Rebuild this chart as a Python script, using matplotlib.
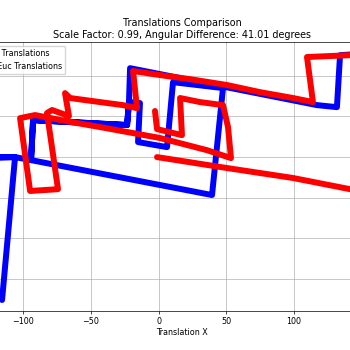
import numpy as np
import matplotlib
matplotlib.use('Agg')
import matplotlib.pyplot as plt
from matplotlib.ticker import MultipleLocator

# blue trajectory (x, y)
gt_x = [-115.5, -105.9, -146.5, -105.9, -94.1, 39.5, 47.6, 10.7, 6.3, -15.1, -13.7, -21.8,
        -23.2, -92.6, -94.1, -92.6, -23.2, -21.8, -21.0, 117.0, 131.7, 134.0, 167.2]
gt_y = [-70.4, 0.0, -0.5, 0.0, -1.5, -18.7, 34.0, 36.9, 4.9, 7.4, 26.6, 27.1,
        15.8, 18.2, -1.5, 18.2, 15.8, 27.1, 43.8, 25.6, 24.6, 50.2, 51.7]

# red trajectory (x, y)
euc_x = [-1.1, 50.6, 99.3, 141.3, 167.2, 167.2, 141.3, 109.6, 114.0, 99.3, 74.9, 50.6,
         23.2, 1.1, -18.8, -15.9, -26.2, -43.2, -65.3, -69.0, -66.1, -78.6, -82.3, -74.2,
         -94.8, -102.2, -91.1, -63.8, -43.2, 1.1, 35.8, 53.5, 51.3, 47.6, 30.6, 15.9,
         17.3, -1.1, -2.6]
euc_y = [0.0, -5.4, -10.3, -15.8, -20.2, 49.8, 50.2, 49.3, 27.1, 29.1, 32.0, 35.5,
         38.4, 40.4, 42.4, 24.1, 25.6, 27.1, 29.1, 31.5, 20.2, 23.2, 21.7, -15.8,
         -16.7, 19.2, 20.7, 17.2, 14.8, 9.4, 3.4, -0.5, 14.8, 25.6, 27.1, 29.1,
         10.8, 13.8, 22.7]

scale_factor = 0.99
ang_diff = 41.01

fs = 5.75
fig = plt.figure(figsize=(3.5, 3.5), dpi=100)
ax = fig.add_axes([-0.1331, 0.111, 1.3063, 0.769])

ax.plot(gt_x, gt_y, color='blue', lw=4.3, solid_capstyle='round', solid_joinstyle='round',
        label='GPS Translations')
ax.plot(euc_x, euc_y, color='red', lw=4.3, solid_capstyle='round', solid_joinstyle='round',
        label='VO Euc Translations')

ax.set_xlim(-151.4, 186.1)
ax.set_ylim(-75.9, 56.7)
ax.xaxis.set_major_locator(MultipleLocator(50))
ax.yaxis.set_major_locator(MultipleLocator(20))
ax.grid(True, color='#b0b0b0', lw=0.5)
ax.tick_params(labelsize=fs, length=2, width=0.5, pad=2)
for s in ax.spines.values():
    s.set_linewidth(0.5)

ax.set_title('Translations Comparison\nScale Factor: %.2f, Angular Difference: %.2f degrees'
             % (scale_factor, ang_diff), fontsize=6.9, pad=3)
ax.set_xlabel('Translation X', fontsize=fs, labelpad=2)
ax.set_ylabel('Translation Y', fontsize=fs)
ax.legend(loc='upper left', fontsize=fs)

fig.savefig('out.png', dpi=100)
